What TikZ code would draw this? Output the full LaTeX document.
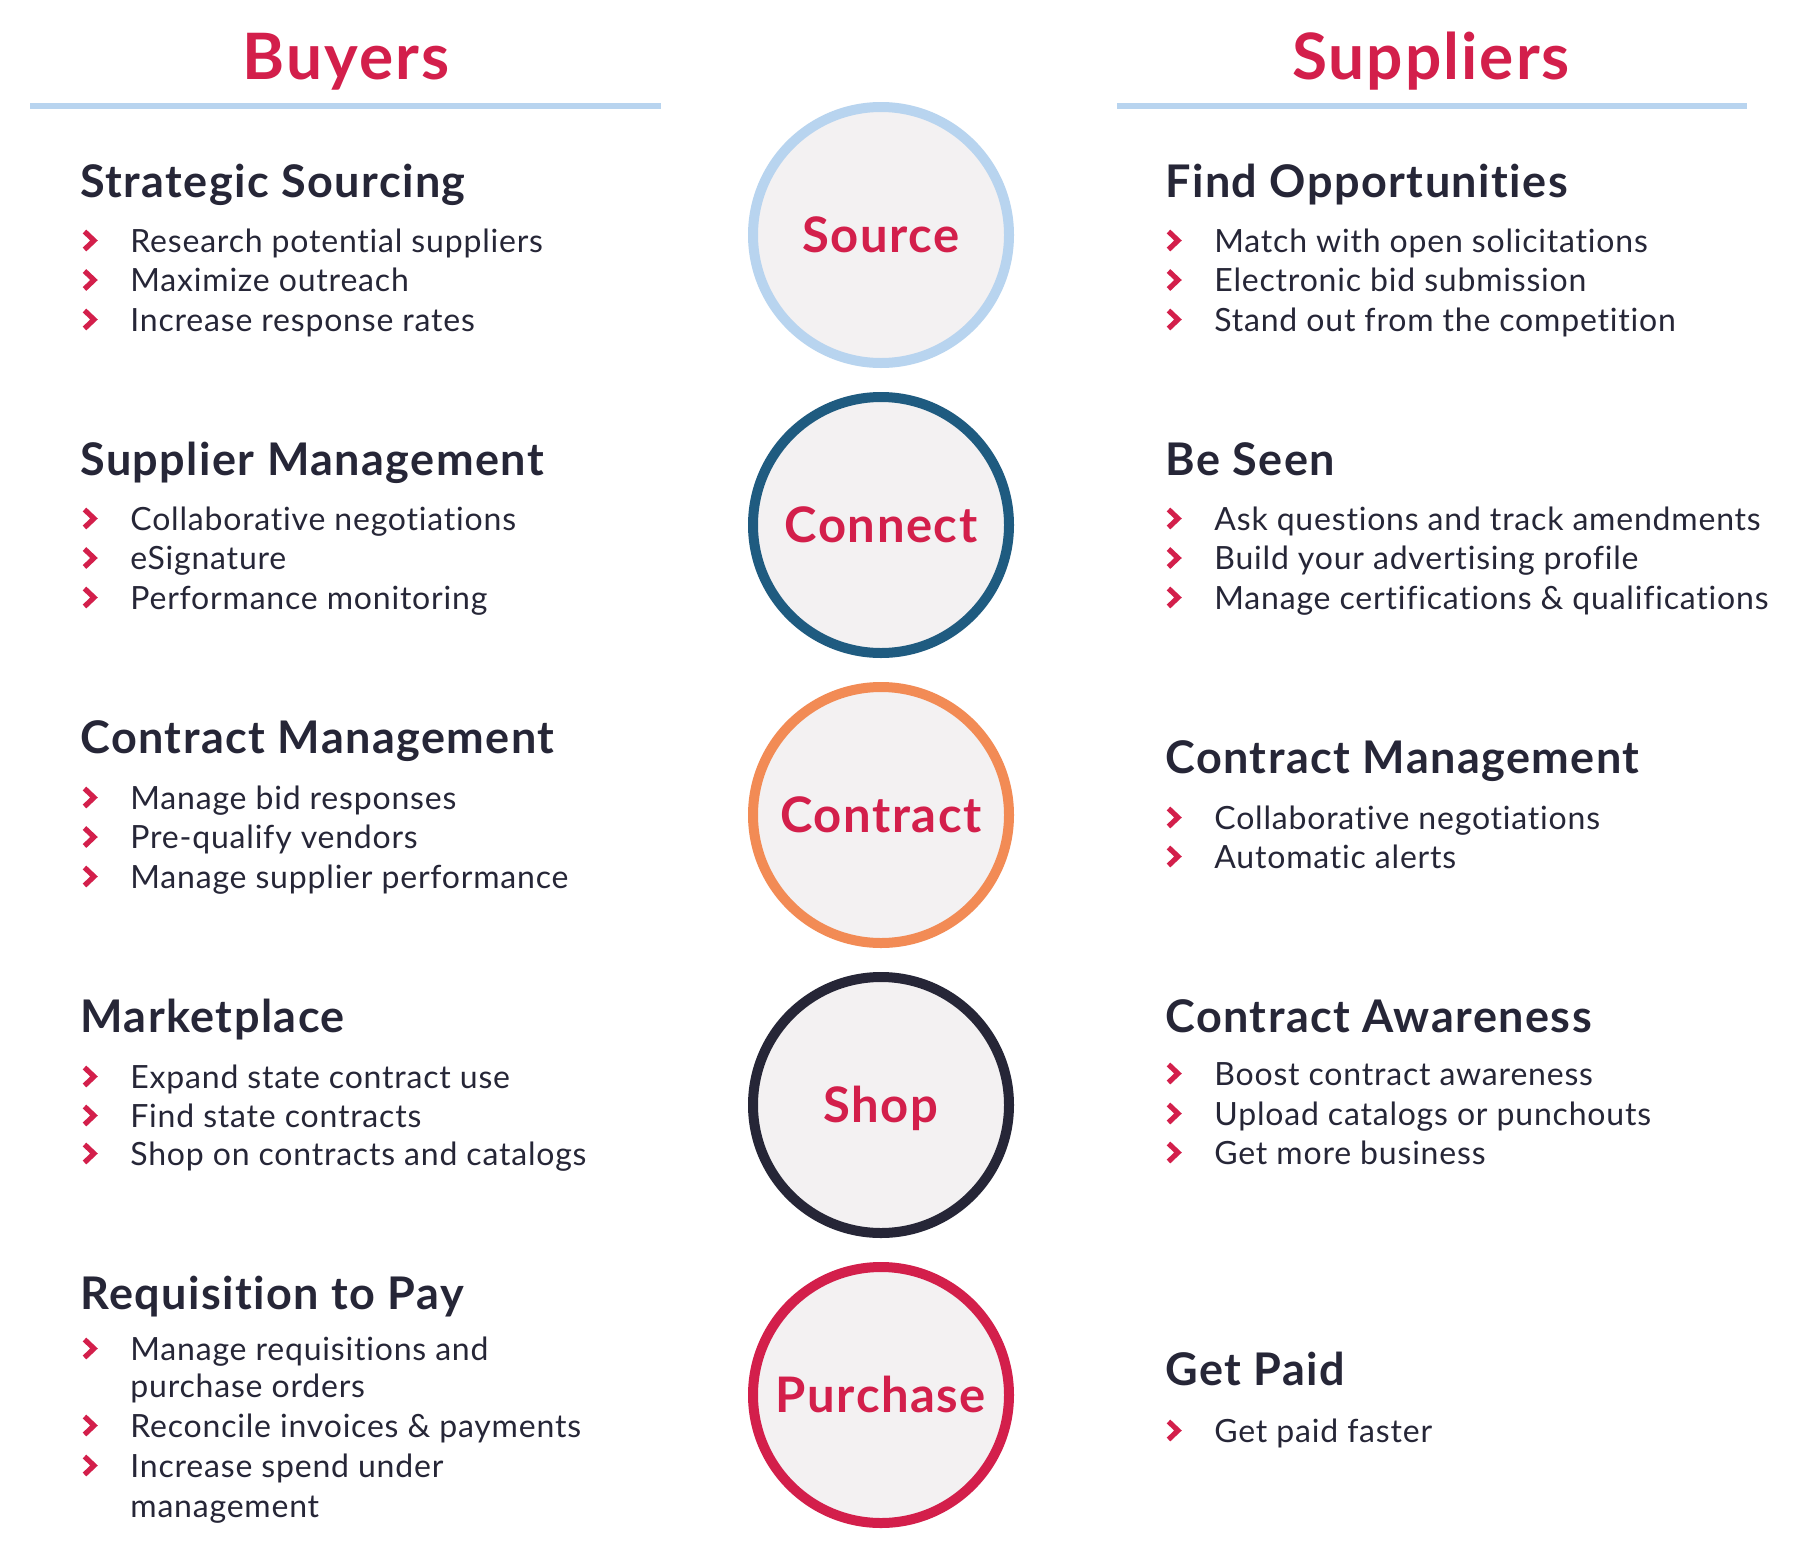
\documentclass[tikz,border=0pt]{standalone}
\usepackage{fontspec}
\setmainfont{Lato}[Ligatures=NoCommon]
\newfontfamily\bodyfont{Lato}[LetterSpace=2.5, Ligatures=NoCommon]
\newfontfamily\headfont{Lato}[LetterSpace=3.2, Ligatures=NoCommon]
\definecolor{brandred}{HTML}{D31F4B}
\definecolor{ink}{HTML}{262637}
\definecolor{skyline}{HTML}{B8D4EF}
\definecolor{tealring}{HTML}{1F5B80}
\definecolor{orangering}{HTML}{F28B55}
\definecolor{navyring}{HTML}{262637}
\definecolor{discfill}{HTML}{F3F1F2}
\newcommand\chevbul[4]{%
  \draw[chev] ({#2+2.5},{#3-20.5}) -- ({#2+12},{#3-11.5}) -- ({#2+2.5},{#3-2.5});
  \node[item] (#1) at ({#2+48},#3) {#4};}
\begin{document}
\begin{tikzpicture}[x=0.5pt,y=-0.5pt,
  title/.style={anchor=base, inner sep=0pt, text=brandred, font=\headfont\fontsize{32}{38}\selectfont\bfseries},
  head/.style={anchor=base west, inner sep=0pt, text=ink, font=\headfont\fontsize{22.5}{27}\selectfont\bfseries},
  item/.style={anchor=base west, inner sep=0pt, text=ink, font=\bodyfont\fontsize{16}{19}\selectfont},
  chev/.style={draw=brandred, line width=2.6pt, line join=miter},
  rule/.style={draw=skyline, line width=3pt},
  ring/.style={circle, minimum size=128pt, inner sep=0pt, line width=5pt, fill=discfill,
    text=brandred, font=\headfont\fontsize{24.5}{29}\selectfont\bfseries, text height=17.5pt, text depth=0pt}]
\useasboundingbox (0,0) rectangle (1800,1553);
\fill[white] (0,0) rectangle (1800,1553);

% titles
\node[title] (buyers) at (346,79) {Buyers};
\node[title] (suppliers) at (1431,79) {Suppliers};
\draw[rule] (30,106) -- (661,106);
\draw[rule] (1117,106) -- (1747,106);

% circles
\node[ring, draw=skyline] (source) at (881,235) {Source};
\node[ring, draw=tealring] (connect) at (881,525) {Connect};
\node[ring, draw=orangering] (contract) at (881,815) {Contract};
\node[ring, draw=navyring] (shop) at (881,1105) {Shop};
\node[ring, draw=brandred] (purchase) at (881,1395) {Purchase};

% left column
\node[head] (ssH) at (80,197) {Strategic Sourcing};
\chevbul{ss1}{82}{252}{Research potential suppliers}
\chevbul{ss2}{82}{291.5}{Maximize outreach}
\chevbul{ss3}{82}{331}{Increase response rates}

\node[head] (smH) at (80,475) {Supplier Management};
\chevbul{sm1}{82}{530}{Collaborative negotiations}
\chevbul{sm2}{82}{569.5}{eSignature}
\chevbul{sm3}{82}{609}{Performance monitoring}

\node[head] (cmH) at (80,753) {Contract Management};
\chevbul{cm1}{82}{809}{Manage bid responses}
\chevbul{cm2}{82}{848.5}{Pre-qualify vendors}
\chevbul{cm3}{82}{888}{Manage supplier performance}

\node[head] (mpH) at (80,1032) {Marketplace};
\chevbul{mp1}{82}{1088}{Expand state contract use}
\chevbul{mp2}{82}{1127}{Find state contracts}
\chevbul{mp3}{82}{1165}{Shop on contracts and catalogs}

\node[head] (rpH) at (80,1309) {Requisition to Pay};
\chevbul{rp1}{82}{1360}{Manage requisitions and}
\node[item] (rp1b) at (130,1397) {purchase orders};
\chevbul{rp2}{82}{1437}{Reconcile invoices \& payments}
\chevbul{rp3}{82}{1477}{Increase spend under}
\node[item] (rp3b) at (130,1517) {management};

% right column
\node[head] (foH) at (1165,197) {Find Opportunities};
\chevbul{fo1}{1166}{252}{Match with open solicitations}
\chevbul{fo2}{1166}{291.5}{Electronic bid submission}
\chevbul{fo3}{1166}{331}{Stand out from the competition}

\node[head] (bsH) at (1165,475) {Be Seen};
\chevbul{bs1}{1166}{530}{Ask questions and track amendments}
\chevbul{bs2}{1166}{569.5}{Build your advertising profile}
\chevbul{bs3}{1166}{609}{Manage certifications \& qualifications}

\node[head] (rcH) at (1165,773) {Contract Management};
\chevbul{rc1}{1166}{829}{Collaborative negotiations}
\chevbul{rc2}{1166}{868}{Automatic alerts}

\node[head] (caH) at (1165,1032) {Contract Awareness};
\chevbul{ca1}{1166}{1085}{Boost contract awareness}
\chevbul{ca2}{1166}{1125}{Upload catalogs or punchouts}
\chevbul{ca3}{1166}{1164}{Get more business}

\node[head] (gpH) at (1165,1385) {Get Paid};
\chevbul{gp1}{1166}{1442}{Get paid faster}
\end{tikzpicture}
\end{document}
